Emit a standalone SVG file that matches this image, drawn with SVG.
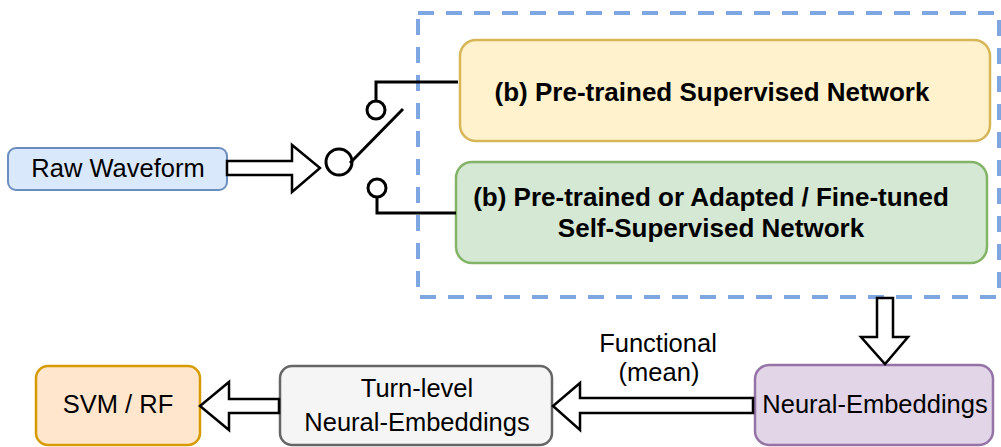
<svg xmlns="http://www.w3.org/2000/svg" width="1001" height="447" viewBox="0 0 1001 447">
<style>
.t{font-family:"Liberation Sans",Arial,sans-serif;font-size:25.5px;fill:#000;text-anchor:middle}
.b{font-weight:bold;font-size:26px}
.ar{fill:#fff;stroke:#000;stroke-width:2.5;stroke-linejoin:miter}
.w{fill:none;stroke:#000;stroke-width:3}
</style>
<rect x="0" y="0" width="1001" height="447" fill="#fff"/>
<g id="group-box">
<rect x="418" y="13" width="581" height="284" fill="none" stroke="#7ea6e0" stroke-width="4" stroke-dasharray="16 12"/>
</g>
<g id="raw-waveform">
<rect x="8" y="148" width="219" height="42" rx="8" fill="#dae8fc" stroke="#6c8ebf" stroke-width="2"/>
<text class="t" x="118" y="177">Raw Waveform</text>
</g>
<g id="supervised">
<rect x="460" y="40" width="530" height="101" rx="16" fill="#fff2cc" stroke="#d6b656" stroke-width="2.5"/>
<text class="t b" x="712" y="101">(b) Pre-trained Supervised Network</text>
</g>
<g id="self-supervised">
<rect x="456" y="162" width="531" height="101" rx="16" fill="#d5e8d4" stroke="#82b366" stroke-width="2.5"/>
<text class="t b" x="711" y="206">(b) Pre-trained or Adapted / Fine-tuned</text>
<text class="t b" x="711" y="237">Self-Supervised Network</text>
</g>
<g id="neural-embeddings">
<rect x="755" y="365" width="238" height="80" rx="14" fill="#e1d5e7" stroke="#9673a6" stroke-width="2.5"/>
<text class="t" x="875" y="413">Neural-Embeddings</text>
</g>
<g id="turn-level">
<rect x="280" y="366" width="272" height="79" rx="12" fill="#f5f5f5" stroke="#666666" stroke-width="2.5"/>
<text class="t" x="417" y="397">Turn-level</text>
<text class="t" x="417" y="431">Neural-Embeddings</text>
</g>
<g id="svm-rf">
<rect x="36" y="366" width="164" height="79" rx="12" fill="#ffe6cc" stroke="#d79b00" stroke-width="2.5"/>
<text class="t" x="118" y="413">SVM / RF</text>
</g>
<g id="switch">
<circle cx="339" cy="162" r="13" class="w"/>
<circle cx="376" cy="110" r="9" class="w"/>
<circle cx="377" cy="188" r="9" class="w"/>
<line x1="350" y1="163" x2="403" y2="109" class="w"/>
<polyline points="376,101 376,82 458,82" class="w"/>
<polyline points="377,197 377,213 456,213" class="w"/>
</g>
<g id="connectors">
<polygon class="ar" points="227,161 292,161 292,145 320,168 292,192 292,175 227,175"/>
<polygon class="ar" points="877,298 893,298 893,337 908,337 885,364 861,337 877,337"/>
<polygon class="ar" points="753,398 580,398 580,383 553,406 580,430 580,413 753,413"/>
<polygon class="ar" points="279,399 229,399 229,382 200,406 229,430 229,413 279,413"/>
<text class="t" x="658" y="352">Functional</text>
<text class="t" x="659" y="381">(mean)</text>
</g>
</svg>
